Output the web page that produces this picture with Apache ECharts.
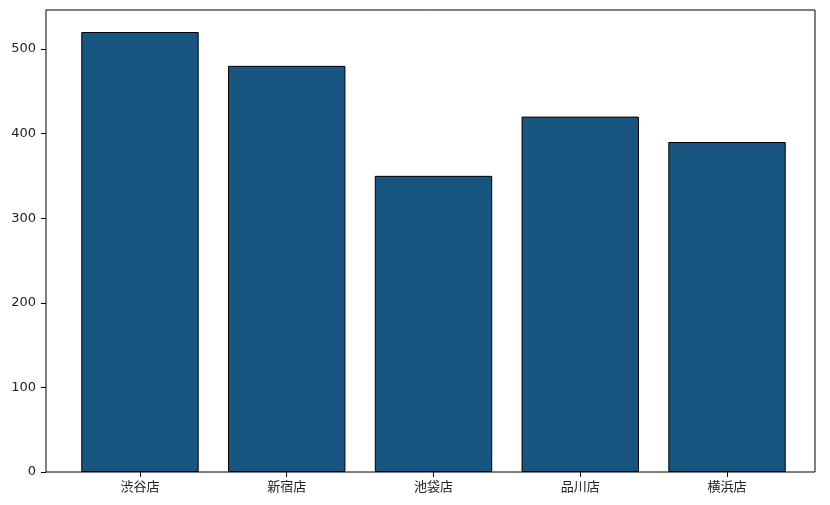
<!DOCTYPE html>
<html>
<head>
<meta charset="utf-8">
<script src="https://cdn.jsdelivr.net/npm/echarts@6/dist/echarts.min.js"></script>
<style>
  html, body { margin: 0; padding: 0; background: #fff; }
  #chart { width: 830px; height: 505px; }
</style>
</head>
<body>
<div id="chart"></div>
<script>
// 店舗別データ
var stores = ['渋谷店', '新宿店', '池袋店', '品川店', '横浜店'];
var sales = [520, 480, 350, 420, 390];
var yTicks = [0, 100, 200, 300, 400, 500];
var yMax = 546;

var myChart = echarts.init(document.getElementById('chart'));

var option = {
  animation: false,
  grid: [
    // 外枠とY軸
    { left: 46, right: 15, top: 10, bottom: 33, show: true, borderColor: '#000', borderWidth: 1, backgroundColor: 'transparent' },
    // 棒グラフ用（matplotlib の余白に合わせて内側）
    { left: 66.6, right: 29.6, top: 10, bottom: 33 }
  ],
  xAxis: [
    { gridIndex: 0, type: 'value', min: 0, max: 1, show: false },
    {
      gridIndex: 1,
      type: 'category',
      data: stores,
      axisLine: { show: false },
      axisTick: { show: true, alignWithLabel: true, length: 5, inside: false, lineStyle: { color: '#000' } },
      axisLabel: { color: '#222', fontSize: 13, margin: 8, fontFamily: 'Noto Sans CJK JP' }
    }
  ],
  yAxis: [
    {
      gridIndex: 0,
      type: 'value',
      min: 0,
      max: yMax,
      splitLine: { show: false },
      axisLine: { show: false },
      axisTick: { show: true, length: 5, customValues: yTicks, lineStyle: { color: '#000' } },
      axisLabel: { customValues: yTicks, color: '#222', fontSize: 13, margin: 10, fontFamily: 'DejaVu Sans' }
    },
    { gridIndex: 1, type: 'value', min: 0, max: yMax, show: false }
  ],
  series: [
    {
      type: 'bar',
      xAxisIndex: 1,
      yAxisIndex: 1,
      data: sales,
      barWidth: '80%',
      itemStyle: { color: '#185580', borderColor: '#000', borderWidth: 1 }
    }
  ]
};

myChart.setOption(option);
</script>
</body>
</html>
